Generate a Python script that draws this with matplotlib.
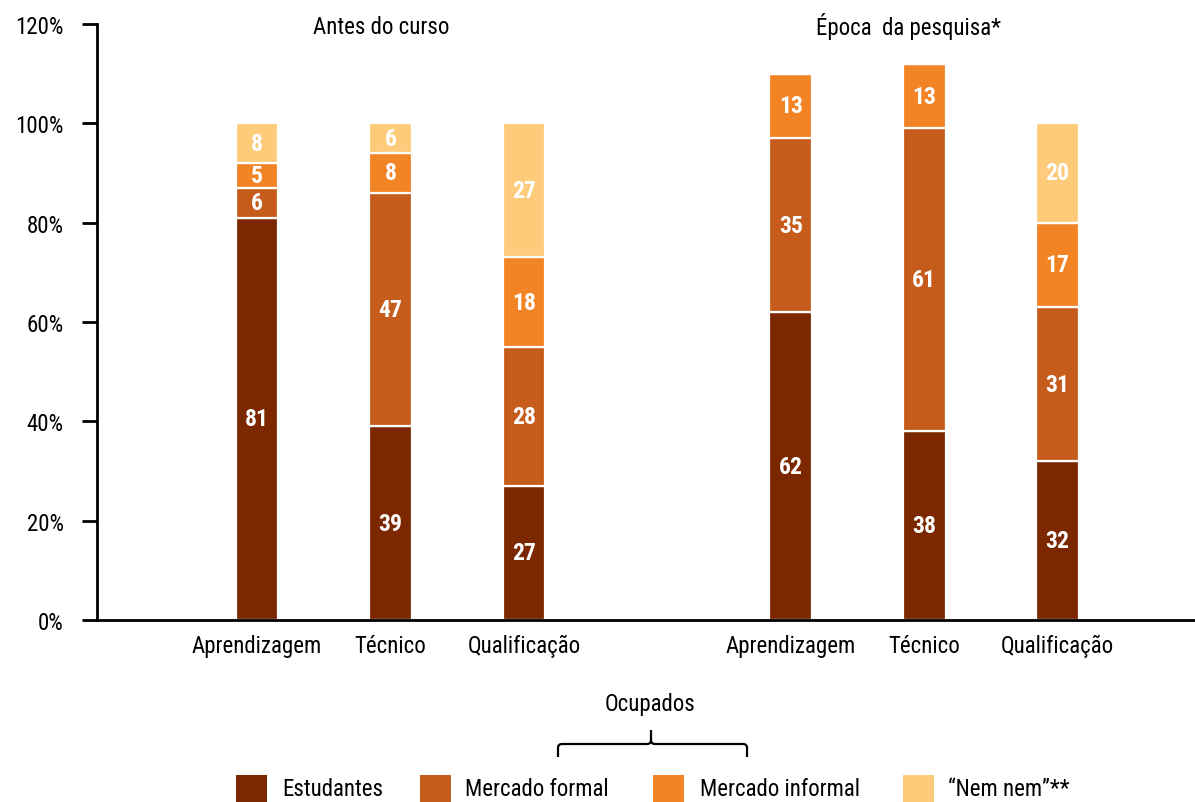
import matplotlib
matplotlib.use("Agg")
import matplotlib.pyplot as plt
from matplotlib.patches import Rectangle, PathPatch
from matplotlib.path import Path

# ---- data ----
categories = ["Aprendizagem", "Técnico", "Qualificação",
              "Aprendizagem", "Técnico", "Qualificação"]
positions = [1, 2, 3, 5, 6, 7]
group_titles = ["Antes do curso", "Época  da pesquisa*"]
series_names = ["Estudantes", "Mercado formal", "Mercado informal", "\u201cNem nem\u201d**"]
estudantes = [81, 39, 27, 62, 38, 32]
mercado_formal = [6, 47, 28, 35, 61, 31]
mercado_informal = [5, 8, 18, 13, 13, 17]
nem_nem = [8, 6, 27, 0, 0, 20]
yticks = [0, 20, 40, 60, 80, 100, 120]
colors = ["#7B2800", "#C65C1B", "#F38426", "#FECB7B"]

plt.rcParams["font.family"] = ["Roboto Condensed", "DejaVu Sans"]
FS = 16.5

W, H = 1195, 803
fig = plt.figure(figsize=(W / 100, H / 100), dpi=100)


def fx(x):
    return x / W


def fy(y):
    return 1 - y / H


ax = fig.add_axes([fx(97), fy(621), fx(1195) - fx(97), fy(25) - fy(621)])

series = [estudantes, mercado_formal, mercado_informal, nem_nem]
bottoms = [0] * len(categories)
for vals, col in zip(series, colors):
    ax.bar(positions, vals, bottom=bottoms, width=0.32, color=col,
           edgecolor="white", linewidth=1.6, zorder=2)
    for x, b, v in zip(positions, bottoms, vals):
        if v > 0:
            ax.text(x, b + v / 2, str(v), ha="center", va="center",
                    color="white", fontsize=17, fontweight="bold", zorder=3)
    bottoms = [b + v for b, v in zip(bottoms, vals)]

ax.set_xlim(-0.2, 8.03)
ax.set_ylim(0, 120)
ax.set_yticks(yticks)
ax.set_yticklabels([f"{t}%" for t in yticks], fontsize=FS)
ax.set_xticks(positions)
ax.set_xticklabels(categories, fontsize=FS)
ax.tick_params(axis="x", length=0, pad=10)
ax.tick_params(axis="y", length=11, width=2, pad=13)
for s in ["top", "right"]:
    ax.spines[s].set_visible(False)
ax.spines["left"].set_linewidth(2)
ax.spines["bottom"].set_linewidth(2)

# group headings
fig.text(fx(381), fy(27), group_titles[0], ha="center", va="center", fontsize=FS)
fig.text(fx(908), fy(27), group_titles[1], ha="center", va="center", fontsize=FS)

# legend
sq_x = [236, 420, 653, 903]
tx_x = [282, 465, 700, 948]
for name, col, sx, tx in zip(series_names, colors, sq_x, tx_x):
    fig.patches.append(Rectangle((fx(sx), fy(803)), fx(31), fy(776) - fy(803),
                                 transform=fig.transFigure, facecolor=col,
                                 edgecolor="none"))
    fig.text(fx(tx), fy(790), name, ha="left", va="center", fontsize=FS)

# brace over the employed categories
xl, xr, xm = 558, 747, 651
yb, yh, yt = 758, 745, 731
r = 4
verts = [(xl, yb), (xl, yh + r), (xl, yh), (xl + r, yh),
         (xm - r, yh), (xm, yh), (xm, yh - r), (xm, yt),
         (xm, yh - r), (xm, yh), (xm + r, yh),
         (xr - r, yh), (xr, yh), (xr, yh + r), (xr, yb)]
codes = [Path.MOVETO, Path.LINETO, Path.CURVE3, Path.CURVE3,
         Path.LINETO, Path.CURVE3, Path.CURVE3, Path.LINETO,
         Path.MOVETO, Path.CURVE3, Path.CURVE3,
         Path.LINETO, Path.CURVE3, Path.CURVE3, Path.LINETO]
path = Path([(fx(a), fy(b)) for a, b in verts], codes)
fig.patches.append(PathPatch(path, transform=fig.transFigure, fill=False,
                             edgecolor="black", linewidth=1.6))
fig.text(fx(650), fy(705), "Ocupados", ha="center", va="center", fontsize=FS)

fig.savefig("out.png", dpi=100)
